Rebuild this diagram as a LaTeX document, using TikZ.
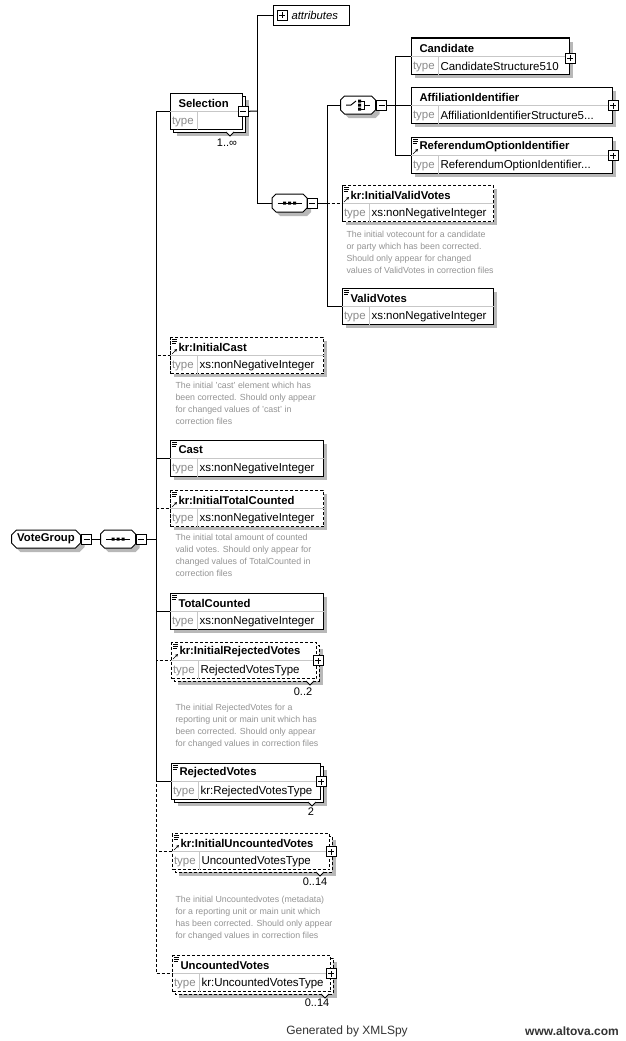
\documentclass[tikz,border=0pt]{standalone}
\usepackage{fontspec}
\setmainfont{Liberation Sans}
\usepackage{tikz}
\usetikzlibrary{arrows.meta}

% element box: [style]{name}{x}{y}{width}{title}{type}{stack offset}
\newcommand{\xsdelem}[8][]{%
  \fill[elshadow] (#3+#8+4,#4+#8+4) rectangle ++(#5,36);
  \draw[elframe,#1] (#3+#8,#4+#8) rectangle ++(#5,36);
  \node[elbox,#1,minimum width=#5pt] (#2) at (#3,#4) {};
  \draw[rowline] ([yshift=-18pt]#2.north west) -- ([yshift=-18pt]#2.north east);
  \draw[rowline] ([xshift=27pt,yshift=-18pt]#2.north west) -- ([xshift=27pt]#2.south west);
  \node[elname] (#2-name) at ([xshift=8pt,yshift=-10pt]#2.north west) {#6};
  \node[eltag] (#2-tag) at ([xshift=1.5pt,yshift=8.5pt]#2.south west) {type};
  \node[eltype] (#2-type) at ([xshift=29pt,yshift=8.5pt]#2.south west) {#7};
}
\newcommand{\docmark}[1]{%
  \draw[icon] ([xshift=2pt,yshift=-2pt]#1.north west) -- ++(5,0)
    ([xshift=2pt,yshift=-4pt]#1.north west) -- ++(5,0)
    ([xshift=2pt,yshift=-6pt]#1.north west) -- ++(4,0);
}
\newcommand{\refmark}[1]{%
  \draw[icon,-{Stealth[length=3pt,width=3pt]}] ([xshift=2pt,yshift=-17pt]#1.north west) -- ++(5,-5);
}
% notch under a repeated box: x, bottom y
\newcommand{\notch}[2]{%
  \filldraw[fill=white] (#1-4,#2) -- (#1,#2+4) -- (#1+4,#2);
}
% cut-corner outline round a compositor node: node, corner, style
\newcommand{\octa}[3]{%
  \path[#3] ([xshift=#2]#1.north west) -- ([xshift=-#2]#1.north east)
    -- ([yshift=-#2]#1.north east) -- ([yshift=#2]#1.south east)
    -- ([xshift=-#2]#1.south east) -- ([xshift=#2]#1.south west)
    -- ([yshift=#2]#1.south west) -- ([yshift=-#2]#1.north west) -- cycle;
}
\newcommand{\compframe}[2]{%
  \octa{#1}{#2}{fill=black!28, transform canvas={xshift=4pt,yshift=-4pt}}
  \octa{#1}{#2}{draw, fill=white}
}
\newcommand{\seqicon}[1]{%
  \draw ([xshift=-12pt]#1.center) -- ([xshift=12pt]#1.center);
  \fill ([xshift=-6.5pt,yshift=-1.5pt]#1.center) rectangle ++(3,-3)
        ([xshift=-1.5pt,yshift=-1.5pt]#1.center) rectangle ++(3,-3)
        ([xshift=3.5pt,yshift=-1.5pt]#1.center) rectangle ++(3,-3);
}
\newcommand{\choiceicon}[1]{%
  \draw ([xshift=-12pt]#1.center) -- ([xshift=-7pt]#1.center) -- ([xshift=-2pt,yshift=4pt]#1.center);
  \fill ([xshift=0pt,yshift=5.5pt]#1.center) rectangle ++(3,3)
        ([xshift=0pt,yshift=1.5pt]#1.center) rectangle ++(3,3)
        ([xshift=0pt,yshift=-2.5pt]#1.center) rectangle ++(3,3);
  \draw ([xshift=3pt,yshift=4pt]#1.center) -- ([xshift=6pt,yshift=4pt]#1.center)
        -- ([xshift=6pt,yshift=-4pt]#1.center) -- ([xshift=3pt,yshift=-4pt]#1.center)
        ([xshift=6pt]#1.center) -- ([xshift=12pt]#1.center);
}

\begin{document}
\begin{tikzpicture}[x=1pt, y=-1pt, line width=1pt,
  elbox/.style = {draw, fill=white, anchor=north west, minimum height=36pt, inner sep=0pt},
  elframe/.style = {draw, fill=white},
  elshadow/.style = {fill=black!28},
  opt/.style = {dash pattern=on 3pt off 2pt},
  rowline/.style = {draw=black!22, line width=.8pt},
  elname/.style = {anchor=west, inner sep=0pt, font=\bfseries\fontsize{11.3}{13}\selectfont},
  eltag/.style = {anchor=west, inner sep=0pt, text=black!45, font=\fontsize{11.5}{13}\selectfont},
  eltype/.style = {anchor=west, inner sep=0pt, font=\fontsize{11.5}{13}\selectfont},
  desc/.style = {anchor=north west, inner sep=0pt, align=left, text=black!42,
    font=\fontsize{8.8}{12}\selectfont},
  mult/.style = {inner sep=0pt, font=\fontsize{11}{13}\selectfont},
  icon/.style = {line width=.6pt},
  pbox/.style = {draw, fill=white, minimum size=10pt, inner sep=0pt, line width=.8pt,
    path picture={\draw[line width=.8pt]
      ([xshift=2pt]path picture bounding box.west) -- ([xshift=-2pt]path picture bounding box.east)
      ([yshift=2pt]path picture bounding box.south) -- ([yshift=-2pt]path picture bounding box.north);}},
  mbox/.style = {draw, fill=white, minimum size=10pt, inner sep=0pt, line width=.8pt,
    path picture={\draw[line width=.8pt]
      ([xshift=2pt]path picture bounding box.west) -- ([xshift=-2pt]path picture bounding box.east);}},
  comp/.style = {rectangle, minimum width=34pt, minimum height=17pt, inner sep=0pt},
  grp/.style = {comp, minimum width=68pt, font=\bfseries\fontsize{11.3}{13}\selectfont},
  attrbox/.style = {draw, fill=white, anchor=north west, minimum width=76pt, minimum height=20pt, inner sep=0pt},
  footer/.style = {text=black!80, font=\fontsize{12}{14}\selectfont}
]
\useasboundingbox (0,0) rectangle (626,1041);
\fill[white] (0,0) rectangle (626,1041);

% VoteGroup and its sequence
\node[grp] (vg) at (46,539) {};
\compframe{vg}{5pt}
\node[grp] (vg-t) at (vg.center) {VoteGroup};
\node[mbox] (vg-m) at (86.5,539) {};
\node[comp] (seq0) at (118,539) {};
\compframe{seq0}{4pt}
\seqicon{seq0}
\node[mbox] (seq0-m) at (141,539) {};
\coordinate (bus) at (156,539);

% Selection
\xsdelem{sel}{170}{93}{72}{Selection}{}{3}
\notch{230}{132}
\node[mult] (sel-n) at (227,143) {1..∞};
\node[mbox] (sel-m) at (sel.east) {};
\coordinate (selbus) at (257,111);
\node[attrbox] (attr) at (273,5) {};
\node[pbox] (attr-p) at (282,15) {};
\node[anchor=west, inner sep=0pt, font=\itshape\fontsize{11.3}{13}\selectfont] (attr-t) at (291,15) {attributes};
\node[comp] (sseq) at (289.5,203) {};
\compframe{sseq}{4pt}
\seqicon{sseq}
\node[mbox] (sseq-m) at (312,203) {};
\coordinate (ssbus) at (327,203);
\node[comp] (chc) at (358,105) {};
\compframe{chc}{4pt}
\choiceicon{chc}
\node[mbox] (chc-m) at (381.5,105) {};
\coordinate (chbus) at (395,105);

\xsdelem{cand}{411}{38}{158}{Candidate}{CandidateStructure510}{0}
\node[pbox] (cand-p) at ([yshift=-2pt]cand.east) {};
\xsdelem{aff}{411}{87}{201}{AffiliationIdentifier}{AffiliationIdentifierStructure5...}{0}
\node[pbox] (aff-p) at (aff.east) {};
\xsdelem{ref}{411}{137}{201}{ReferendumOptionIdentifier}{ReferendumOptionIdentifier...}{0}
\node[pbox] (ref-p) at (ref.east) {};
\docmark{ref} \refmark{ref}

\xsdelem[opt]{ivv}{342}{185}{151}{kr:InitialValidVotes}{xs:nonNegativeInteger}{0}
\docmark{ivv} \refmark{ivv}
\node[desc] (ivv-doc) at (346,231) {The initial votecount for a candidate\\or party which has been corrected.\\Should only appear for changed\\values of ValidVotes in correction files};
\xsdelem{vv}{342}{288}{151}{ValidVotes}{xs:nonNegativeInteger}{0}
\docmark{vv}

% children of the main sequence
\xsdelem[opt]{icast}{170}{337}{153}{kr:InitialCast}{xs:nonNegativeInteger}{0}
\docmark{icast} \refmark{icast}
\node[desc] (icast-doc) at (175,382) {The initial 'cast' element which has\\been corrected. Should only appear\\for changed values of 'cast' in\\correction files};
\xsdelem{cast}{170}{440}{153}{Cast}{xs:nonNegativeInteger}{0}
\docmark{cast}
\xsdelem[opt]{itc}{170}{490}{153}{kr:InitialTotalCounted}{xs:nonNegativeInteger}{0}
\docmark{itc} \refmark{itc}
\node[desc] (itc-doc) at (175,534) {The initial total amount of counted\\valid votes. Should only appear for\\changed values of TotalCounted in\\correction files};
\xsdelem{tc}{170}{593}{153}{TotalCounted}{xs:nonNegativeInteger}{0}
\docmark{tc}

\xsdelem[opt]{irv}{171}{642}{145}{kr:InitialRejectedVotes}{RejectedVotesType}{3}
\docmark{irv} \refmark{irv}
\node[pbox] (irv-p) at ([xshift=1pt]irv.east) {};
\notch{310}{681}
\node[mult] (irv-n) at (303,692) {0..2};
\node[desc] (irv-doc) at (175,704) {The initial RejectedVotes for a\\reporting unit or main unit which has\\been corrected. Should only appear\\for changed values in correction files};
\xsdelem{rv}{171}{763}{149}{RejectedVotes}{kr:RejectedVotesType}{3}
\docmark{rv}
\node[pbox] (rv-p) at (rv.east) {};
\notch{312}{802}
\node[mult] (rv-n) at (311,812) {2};

\xsdelem[opt]{iuv}{172}{833}{157}{kr:InitialUncountedVotes}{UncountedVotesType}{3}
\docmark{iuv} \refmark{iuv}
\node[pbox] (iuv-p) at ([xshift=1pt]iuv.east) {};
\notch{320}{872}
\node[mult] (iuv-n) at (315,882) {0..14};
\node[desc] (iuv-doc) at (175,896) {The initial Uncountedvotes (metadata)\\for a reporting unit or main unit which\\has been corrected. Should only appear\\for changed values in correction files};
\xsdelem[opt]{uv}{172}{955}{158}{UncountedVotes}{kr:UncountedVotesType}{3}
\docmark{uv}
\node[pbox] (uv-p) at (uv.east) {};
\notch{325}{994}
\node[mult] (uv-n) at (317,1003) {0..14};

% connectors
\draw (vg-m) -- (seq0);
\draw (seq0-m) -- (bus);
\draw (bus) |- (sel.west);
\draw[opt] (bus) |- (icast.west);
\draw (bus) |- (cast.west);
\draw[opt] (bus) |- (itc.west);
\draw (bus) |- (tc.west);
\draw[opt] (bus) |- (irv.west);
\draw (bus) |- (rv.west);
\draw[opt] (bus) |- (iuv.west);
\draw[opt] (bus) |- (uv.west);
\draw (sel-m) -- (selbus);
\draw (selbus) |- (attr.west);
\draw (selbus) |- (sseq.west);
\draw (sseq-m) -- (ssbus);
\draw (ssbus) |- (chc.west);
\draw[opt] (ssbus) |- (ivv.west);
\draw (ssbus) |- (vv.west);
\draw (chc-m) -- (chbus);
\draw (chbus) |- (cand.west);
\draw (chbus) |- (aff.west);
\draw (chbus) |- (ref.west);

\node[footer] (gen) at (347,1031) {Generated by XMLSpy};
\node[footer, font=\bfseries\fontsize{12}{14}\selectfont] (url) at (572,1031) {www.altova.com};
\end{tikzpicture}
\end{document}
